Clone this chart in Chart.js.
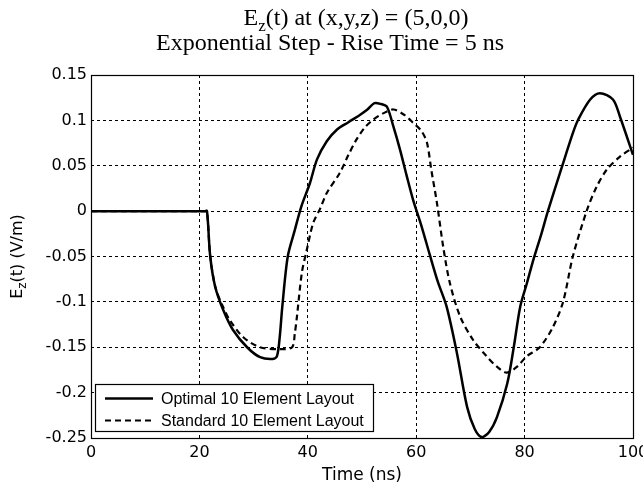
<!DOCTYPE html>
<html>
<head>
<meta charset="utf-8">
<script src="https://cdn.jsdelivr.net/npm/chart.js@4/dist/chart.umd.min.js"></script>
<style>
html,body{margin:0;padding:0;background:#fff;}
#wrap{width:643px;height:492px;}
</style>
</head>
<body>
<div id="wrap"><canvas id="c" width="643" height="492"></canvas></div>
<script>
// ---- data ----
const optimalTime = [0,21,21.4,22,22.9,24.4,26.2,28.8,31.2,33.5,34.3,34.8,35.3,36.3,37.6,38.8,40.4,41.7,43.5,45.4,47.5,49.6,51,52.3,53.5,54.6,55.8,57,58.2,59.4,61,62.5,64,65.6,67.5,69.4,70.8,72.1,73.5,74.9,76.8,78,79.2,80.4,81.6,83,84.3,86.9,88.9,89.9,92.1,93.9,96.3,97.6,100];
const optimalValues = [0,0,0,-0.05,-0.083,-0.109,-0.131,-0.150,-0.161,-0.163,-0.160,-0.14,-0.105,-0.05,-0.021,0.005,0.031,0.057,0.077,0.090,0.098,0.106,0.112,0.119,0.118,0.115,0.093,0.068,0.040,0.013,-0.017,-0.048,-0.078,-0.105,-0.156,-0.216,-0.240,-0.249,-0.243,-0.227,-0.190,-0.150,-0.105,-0.080,-0.054,-0.027,0.0,0.049,0.086,0.101,0.123,0.130,0.123,0.104,0.062];
const standardTime = [0,21,21.4,22,23,24.4,25.6,28.1,31.2,34.9,37.1,37.6,38,38.9,39.8,41,42.3,43.5,45.9,47.5,49,50.5,52.1,54,55.8,57.8,59.5,61,62,62.8,63.8,65,66.2,68.1,70.5,73,75,76.7,78.5,80.4,82.8,85.2,87.1,88.9,91.5,93.3,95.2,97.6,100];
const standardValues = [0,0,0,-0.05,-0.085,-0.106,-0.12,-0.139,-0.150,-0.152,-0.150,-0.135,-0.116,-0.068,-0.043,-0.013,0.003,0.020,0.042,0.062,0.079,0.092,0.101,0.108,0.112,0.106,0.097,0.088,0.075,0.045,0.010,-0.040,-0.079,-0.116,-0.142,-0.160,-0.172,-0.178,-0.172,-0.160,-0.150,-0.128,-0.100,-0.050,0.001,0.027,0.046,0.060,0.070];
const seriesLabels = ['Optimal 10 Element Layout','Standard 10 Element Layout'];
const xTicks = [0,20,40,60,80,100];
const xTickLabels = ['0','20','40','60','80','100'];
const yTicks = [-0.25,-0.2,-0.15,-0.1,-0.05,0,0.05,0.1,0.15];
const yTickLabels = ['-0.25','-0.2','-0.15','-0.1','-0.05','0','0.05','0.1','0.15'];
const titleLine1 = ['E','z','(t) at (x,y,z) = (5,0,0)'];
const titleLine2 = 'Exponential Step - Rise Time = 5 ns';
const yTitle = ['E','z','(t) (V/m)'];
const xTitle = 'Time (ns)';

const SANS = '"DejaVu Sans", Verdana, sans-serif';
const toPts = (xs, ys) => xs.map((x,i)=>({x:x,y:ys[i]}));

const extras = {
  id:'extras',
  afterDraw(chart){
    const ctx = chart.ctx, a = chart.chartArea;
    ctx.save();
    // axes box
    ctx.strokeStyle='#000'; ctx.lineWidth=1.2; ctx.setLineDash([]);
    ctx.strokeRect(Math.round(a.left)+0.5, Math.round(a.top)+0.5, Math.round(a.right-a.left), Math.round(a.bottom-a.top));
    // title
    ctx.fillStyle='#000';
    ctx.textBaseline='alphabetic';
    const big = '24px "Liberation Serif", "Times New Roman", serif', small='17px "Liberation Serif", serif';
    ctx.font=big; const w0=ctx.measureText(titleLine1[0]).width, w2=ctx.measureText(titleLine1[2]).width;
    ctx.font=small; const w1=ctx.measureText(titleLine1[1]).width;
    let x = 356-(w0+w1+w2)/2;
    ctx.textAlign='left';
    ctx.font=big; ctx.fillText(titleLine1[0], x, 25); x+=w0;
    ctx.font=small; ctx.fillText(titleLine1[1], x, 31); x+=w1;
    ctx.font=big; ctx.fillText(titleLine1[2], x, 25);
    ctx.textAlign='center';
    ctx.fillText(titleLine2, 330, 50);
    // y title (rotated)
    ctx.save();
    ctx.translate(22, (a.top+a.bottom)/2);
    ctx.rotate(-Math.PI/2);
    const yb='16px '+SANS, ys='12px '+SANS;
    ctx.font=yb; const v0=ctx.measureText(yTitle[0]).width, v2=ctx.measureText(yTitle[2]).width;
    ctx.font=ys; const v1=ctx.measureText(yTitle[1]).width;
    let yx=-(v0+v1+v2)/2;
    ctx.textAlign='left';
    ctx.font=yb; ctx.fillText(yTitle[0], yx, 0); yx+=v0;
    ctx.font=ys; ctx.fillText(yTitle[1], yx, 4); yx+=v1;
    ctx.font=yb; ctx.fillText(yTitle[2], yx, 0);
    ctx.restore();
    // legend
    const lx=95.5, ly=384.5, lw=278, lh=47;
    ctx.fillStyle='#fff'; ctx.fillRect(lx,ly,lw,lh);
    ctx.strokeStyle='#000'; ctx.lineWidth=1.2; ctx.strokeRect(lx,ly,lw,lh);
    ctx.font='16px "Liberation Sans", Arial, sans-serif';
    ctx.textAlign='left'; ctx.textBaseline='middle'; ctx.fillStyle='#000';
    chart.data.datasets.forEach((ds,i)=>{
      const ry = ly+14+i*22;
      ctx.strokeStyle=ds.borderColor; ctx.lineWidth=ds.borderWidth;
      ctx.setLineDash(ds.borderDash||[]);
      ctx.beginPath(); ctx.moveTo(105,ry); ctx.lineTo(153,ry); ctx.stroke();
      ctx.setLineDash([]);
      ctx.fillText(ds.label, 161, ry+1);
    });
    ctx.restore();
  }
};

new Chart(document.getElementById('c'), {
  type:'line',
  data:{datasets:[
    {label:seriesLabels[0], data:toPts(optimalTime,optimalValues), borderColor:'#000', borderWidth:2.5, pointRadius:0, tension:0.3, fill:false},
    {label:seriesLabels[1], data:toPts(standardTime,standardValues), borderColor:'#000', borderWidth:2.2, borderDash:[6,4], pointRadius:0, tension:0.3, fill:false}
  ]},
  options:{
    responsive:false, animation:false,
    layout:{padding:{top:75, right:10, left:0, bottom:0}},
    plugins:{legend:{display:false}, title:{display:false}, tooltip:{enabled:false}},
    scales:{
      x:{type:'linear', min:0, max:100,
        afterBuildTicks(s){ s.ticks = xTicks.map(v=>({value:v})); },
        afterFit(s){ s.height = 54; s.paddingLeft=0; s.paddingRight=0; },
        ticks:{color:'#000', padding:5, font:{family:SANS, size:16}, maxRotation:0,
          callback:(v)=>xTickLabels[xTicks.indexOf(v)]},
        grid:{color:'#000', lineWidth:1, drawTicks:false},
        border:{display:false, dash:[3,3]},
        title:{display:true, text:xTitle, color:'#000', font:{family:SANS, size:17}, padding:{top:0,bottom:6}}
      },
      y:{type:'linear', min:-0.25, max:0.15,
        afterBuildTicks(s){ s.ticks = yTicks.map(v=>({value:v})); },
        afterFit(s){ s.width = 91; },
        ticks:{color:'#000', padding:4, font:{family:SANS, size:16},
          callback:(v)=>{ const i=yTicks.findIndex(t=>Math.abs(t-v)<1e-9); return i>=0?yTickLabels[i]:''; }},
        grid:{color:'#000', lineWidth:1, drawTicks:false},
        border:{display:false, dash:[3,3]}
      }
    }
  },
  plugins:[extras]
});
</script>
</body>
</html>
